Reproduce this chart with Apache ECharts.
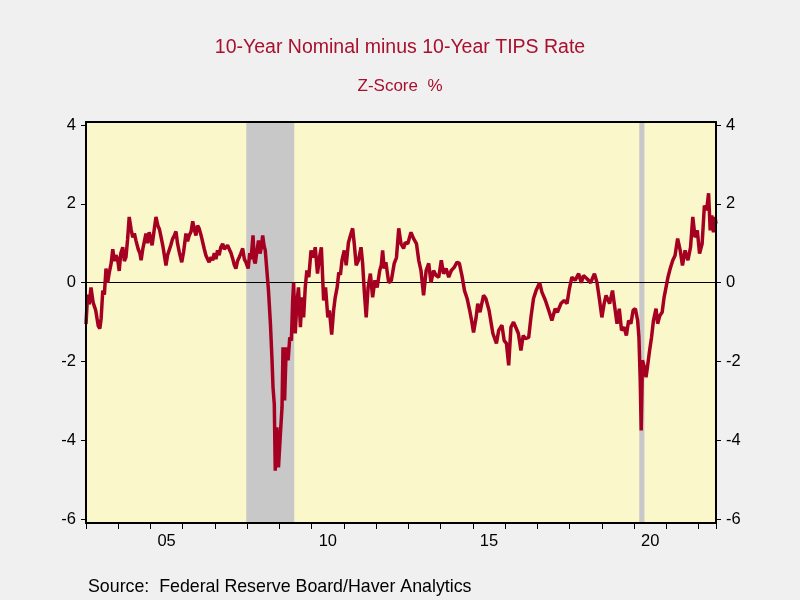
<!DOCTYPE html>
<html>
<head>
<meta charset="utf-8">
<script src="https://cdn.jsdelivr.net/npm/echarts@6/dist/echarts.min.js"></script>
<style>html,body{margin:0;padding:0;background:#F0F0F0;}#c{width:800px;height:600px;}</style>
</head>
<body>
<div id="c"></div>
<script>
// Decimal years and z-score values
const dates = [
2003.00,2003.05,2003.10,2003.155,2003.22,2003.30,2003.38,2003.43,2003.47,2003.52,2003.57,2003.62,2003.67,2003.72,2003.78,2003.83,2003.88,2003.93,2003.98,
2004.03,2004.08,2004.14,2004.19,2004.24,2004.29,2004.34,2004.40,2004.45,2004.50,2004.55,2004.62,2004.67,2004.71,2004.76,2004.81,2004.86,2004.91,2004.96,
2005.00,2005.05,2005.10,2005.17,2005.23,2005.28,2005.33,2005.38,2005.43,2005.48,2005.53,2005.58,2005.63,2005.68,2005.74,2005.79,2005.84,2005.90,2005.97,
2006.03,2006.10,2006.15,2006.20,2006.26,2006.31,2006.36,2006.41,2006.46,2006.51,2006.57,2006.62,2006.67,2006.72,2006.77,2006.82,2006.88,2006.93,2006.98,
2007.03,2007.08,2007.13,2007.18,2007.24,2007.29,2007.34,2007.39,2007.44,2007.50,2007.55,2007.60,2007.65,2007.70,2007.75,2007.80,2007.86,2007.91,2007.96,2007.99,
2008.03,2008.08,2008.12,2008.18,2008.22,2008.25,2008.30,2008.35,2008.40,2008.44,2008.48,2008.52,2008.56,2008.61,2008.66,2008.72,2008.77,2008.80,2008.84,2008.87,2008.92,2008.97,
2009.03,2009.08,2009.11,2009.16,2009.21,2009.27,2009.32,2009.37,2009.41,2009.44,2009.49,2009.54,2009.59,2009.65,2009.70,2009.75,2009.80,2009.85,2009.91,2009.98,
2010.05,2010.11,2010.18,2010.24,2010.30,2010.37,2010.43,2010.50,2010.55,2010.62,2010.68,2010.73,2010.79,2010.84,2010.89,2010.94,
2011.01,2011.07,2011.14,2011.22,2011.27,2011.32,2011.38,2011.45,2011.53,2011.58,2011.63,2011.69,2011.75,2011.82,2011.89,2011.96,
2012.03,2012.11,2012.16,2012.20,2012.25,2012.30,2012.39,2012.47,2012.56,2012.63,2012.70,2012.77,2012.85,2012.90,2012.98,
2013.08,2013.16,2013.25,2013.32,2013.39,2013.47,2013.55,2013.63,2013.70,2013.78,2013.86,2013.94,
2014.02,2014.09,2014.17,2014.25,2014.33,2014.42,2014.51,2014.58,2014.66,2014.74,2014.82,2014.90,2014.96,
2015.02,2015.10,2015.15,2015.22,2015.33,2015.40,2015.50,2015.62,2015.73,2015.80,2015.90,2015.97,
2016.04,2016.11,2016.18,2016.26,2016.33,2016.41,2016.49,2016.56,2016.63,2016.73,2016.80,2016.88,2016.96,
2017.07,2017.14,2017.25,2017.35,2017.45,2017.55,2017.62,2017.73,2017.83,2017.92,2017.99,
2018.07,2018.17,2018.28,2018.36,2018.43,2018.54,2018.65,2018.77,2018.85,2018.93,
2019.00,2019.07,2019.13,2019.18,2019.24,2019.33,2019.40,2019.47,2019.54,2019.61,2019.69,2019.76,2019.83,2019.90,2019.97,
2020.04,2020.11,2020.15,2020.19,2020.22,2020.26,2020.32,2020.37,2020.42,2020.48,2020.54,2020.60,2020.68,2020.73,2020.80,2020.87,2020.93,2020.99,
2021.05,2021.12,2021.20,2021.27,2021.35,2021.43,2021.50,2021.58,2021.67,2021.75,2021.82,2021.89,2021.96,
2022.03,2022.11,2022.18,2022.25,2022.31,2022.36,2022.41,2022.46,2022.51,2022.54
];
const values = [
-1.05,-0.3,-0.55,-0.12,-0.5,-0.7,-1.1,-1.16,-0.9,-0.2,-0.3,0.36,0.0,0.25,0.49,0.85,0.55,0.7,0.6,
0.3,0.75,0.9,0.55,0.65,1.1,1.67,1.35,1.15,1.25,1.07,0.85,0.75,0.57,0.85,1.05,1.25,1.0,1.28,
1.15,0.95,1.25,1.67,1.45,1.35,1.15,0.95,0.7,0.44,0.7,0.69,0.95,1.1,1.2,1.3,0.99,0.75,0.52,
0.8,1.25,1.05,1.2,1.3,1.56,1.35,1.2,1.45,1.38,1.2,1.15,0.85,0.69,0.6,0.52,0.65,0.57,0.75,
0.6,0.82,0.7,0.9,0.99,0.85,0.82,0.95,0.9,0.75,0.61,0.45,0.36,0.55,0.64,0.74,0.87,0.6,0.52,0.49,
0.36,0.75,0.6,1.2,0.55,0.49,0.8,1.07,0.74,0.9,1.2,0.95,0.82,0.31,-0.2,-1.04,-1.97,-2.65,-3.08,-4.77,-3.67,-4.69,
-3.83,-3.16,-1.64,-2.99,-1.64,-1.97,-1.39,-1.47,-0.45,0.0,-1.29,-0.53,-0.12,-1.13,-0.37,-0.88,-0.12,0.31,0.14,0.82,
0.64,0.9,0.23,0.64,0.9,-0.45,-0.12,-0.88,-0.7,-1.32,-0.7,-0.37,-0.12,0.26,0.2,0.57,
0.82,0.44,1.02,1.25,1.38,0.99,0.44,0.57,0.9,0.49,-0.2,-0.88,-0.12,0.23,-0.37,0.06,
-0.12,0.31,0.45,0.82,0.36,0.52,0.0,0.06,0.49,0.64,1.38,0.99,0.87,1.02,0.99,
1.28,1.12,0.99,0.57,0.31,-0.32,0.31,0.49,0.0,0.31,0.18,0.14,
0.57,0.23,0.36,0.14,0.31,0.39,0.52,0.49,0.18,-0.2,-0.4,-0.7,-0.96,
-1.26,-0.88,-0.53,-0.75,-0.32,-0.4,-0.7,-1.29,-1.54,-1.21,-1.08,-1.47,
-1.54,-2.1,-1.13,-1.0,-1.13,-1.29,-1.72,-1.34,-1.42,-1.39,-0.88,-0.4,-0.2,
0.0,-0.24,-0.45,-0.7,-0.96,-0.66,-0.75,-0.53,-0.45,-0.53,-0.16,
0.14,0.06,0.23,0.0,0.18,0.1,0.0,0.23,0.0,-0.45,
-0.88,-0.53,-0.32,-0.28,-0.53,-0.2,-0.62,-1.04,-0.66,-1.21,-1.13,-1.34,-0.96,-1.04,-0.7,
-0.66,-0.96,-1.39,-2.48,-3.75,-1.97,-2.15,-2.4,-2.1,-1.72,-1.39,-0.96,-0.66,-1.04,-0.83,-0.75,-0.37,-0.12,
0.14,0.36,0.57,0.69,1.12,0.82,0.44,0.82,0.57,0.9,1.67,1.15,1.33,
0.74,0.99,1.96,1.84,2.27,1.33,1.71,1.28,1.67,1.5
];
const recessions = [[2007.97, 2009.46], [2020.16, 2020.32]];
const xLabelValues = [2005.5, 2010.5, 2015.5, 2020.5];
const xLabels = ['05', '10', '15', '20'];
const yTickValues = [-6, -4, -2, 0, 2, 4];
const titleText = '10-Year Nominal minus 10-Year TIPS Rate';
const subtitleText = 'Z-Score  %';
const sourceText = 'Source:  Federal Reserve Board/Haver Analytics';

const seriesData = dates.map((d, i) => [d, values[i]]);
const FONT = 'Liberation Sans, Arial, sans-serif';
const xMin = 2003, xMax = 2022.54, yMin = -6.1, yMax = 4.08;

const chart = echarts.init(document.getElementById('c'), null, {renderer: 'canvas'});
const yAxisCommon = {
  type: 'value', min: yMin, max: yMax, z: 10,
  splitLine: {show: false},
  axisLine: {show: true, onZero: false, lineStyle: {color: '#000', width: 2}},
  axisTick: {show: true, inside: false, length: 5, customValues: yTickValues, lineStyle: {color: '#000', width: 1}},
  axisLabel: {show: true, customValues: yTickValues, margin: 10, color: '#000', fontSize: 16.5, fontFamily: FONT}
};
chart.setOption({
  backgroundColor: '#F0F0F0',
  animation: false,
  title: [
    {text: titleText, left: 'center', top: 38, padding: 0, textStyle: {color: '#A8102E', fontSize: 19.5, fontWeight: 'normal', fontFamily: FONT}},
    {text: subtitleText, left: 'center', top: 78, padding: 0, textStyle: {color: '#A8102E', fontSize: 17, fontWeight: 'normal', fontFamily: FONT}},
    {text: sourceText, left: 88, top: 578, padding: 0, textStyle: {color: '#000', fontSize: 17.8, fontWeight: 'normal', fontFamily: FONT}}
  ],
  grid: {left: 86, right: 84, top: 122, bottom: 77, show: true, backgroundColor: '#FAF8CB', borderWidth: 0},
  xAxis: [
    {
      type: 'value', min: xMin, max: xMax, interval: 1, z: 10,
      splitLine: {show: false},
      axisLine: {show: true, onZero: false, lineStyle: {color: '#000', width: 2}},
      axisTick: {show: true, inside: false, length: 6, lineStyle: {color: '#000', width: 1}},
      axisLabel: {
        show: true, customValues: xLabelValues, margin: 10, color: '#000', fontSize: 16.5, fontFamily: FONT,
        formatter: v => { const i = xLabelValues.findIndex(t => Math.abs(t - v) < 1e-6); return i >= 0 ? xLabels[i] : ''; }
      }
    },
    {
      type: 'value', position: 'top', min: xMin, max: xMax, z: 10,
      splitLine: {show: false},
      axisLine: {show: true, onZero: false, lineStyle: {color: '#000', width: 2}},
      axisTick: {show: false}, axisLabel: {show: false}
    }
  ],
  yAxis: [
    Object.assign({}, yAxisCommon, {position: 'left'}),
    Object.assign({}, yAxisCommon, {position: 'right'})
  ],
  series: [{
    type: 'line',
    data: seriesData,
    showSymbol: false,
    symbol: 'none',
    lineStyle: {color: '#A50021', width: 3.5},
    z: 5,
    markArea: {
      silent: true,
      itemStyle: {color: '#C8C8C8', opacity: 1},
      data: recessions.map(r => [{xAxis: r[0]}, {xAxis: r[1]}])
    },
    markLine: {
      silent: true, symbol: 'none', animation: false,
      label: {show: false},
      lineStyle: {color: '#000', width: 1, type: 'solid'},
      data: [{yAxis: 0}]
    }
  }]
});
</script>
</body>
</html>
